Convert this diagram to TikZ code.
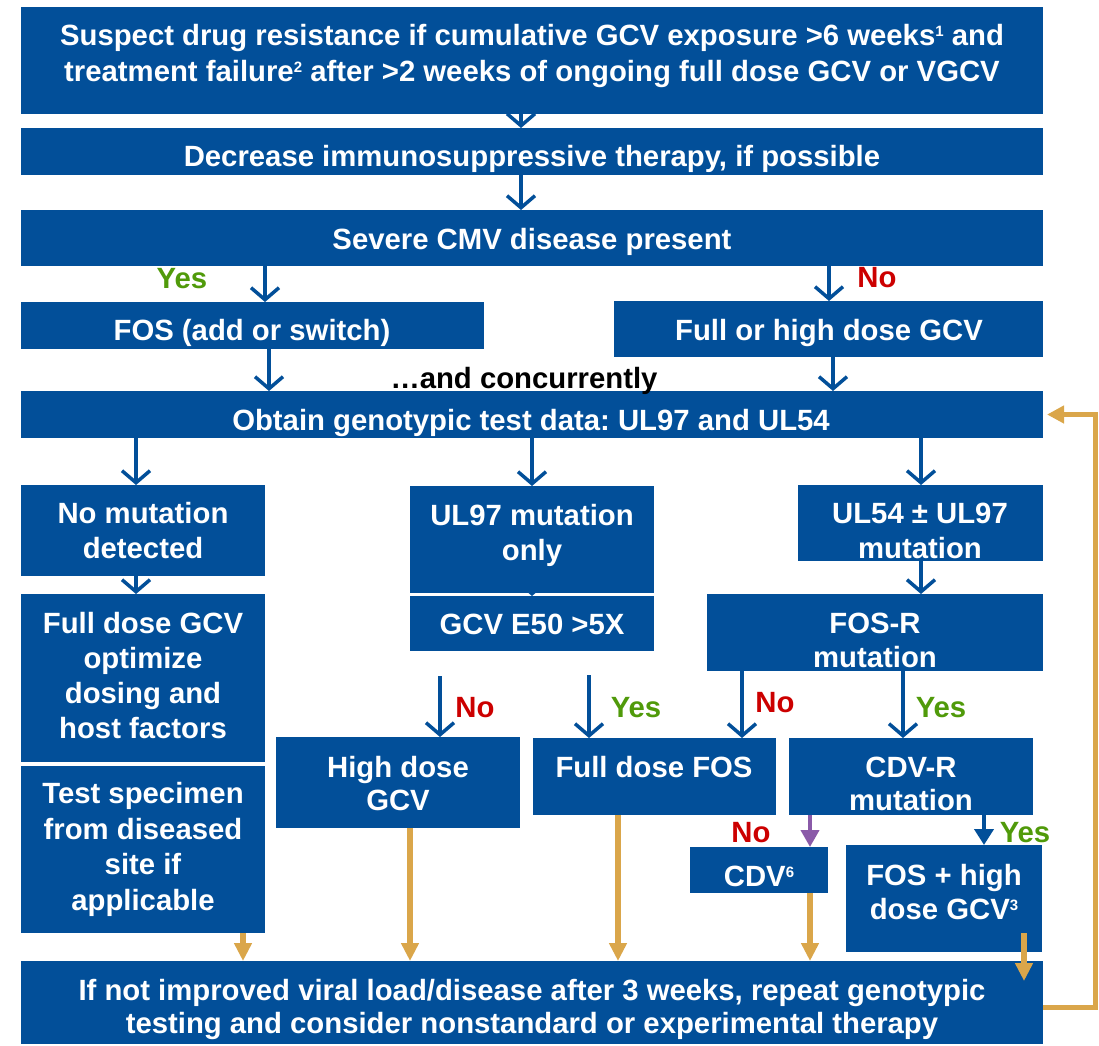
\documentclass[tikz,border=0pt]{standalone}
\usepackage{fontspec}
\setmainfont{Liberation Sans}
\usetikzlibrary{arrows.meta}
\definecolor{cmvblue}{RGB}{2,79,153}
\definecolor{cmvgold}{RGB}{218,166,74}
\definecolor{cmvgreen}{RGB}{80,154,10}
\definecolor{cmvred}{RGB}{204,0,0}
\definecolor{cmvpurple}{RGB}{138,90,168}
\newcommand\mysup[1]{\raisebox{8.5pt}{\fontsize{15}{15}\selectfont #1}}
\frenchspacing
\begin{document}
\frenchspacing
\begin{tikzpicture}[x=1pt,y=-1pt,
  box/.style={fill=cmvblue, draw=none, inner sep=0pt, outer sep=0pt, anchor=north west},
  txt/.style={text=white, font=\bfseries\fontsize{29.3}{35}\selectfont, align=center, inner sep=0pt, anchor=base},
  lbl/.style={font=\bfseries\fontsize{29.3}{35}\selectfont, inner sep=0pt, anchor=base},
  yes/.style={lbl, text=cmvgreen},
  no/.style={lbl, text=cmvred},
  barb/.style={draw=cmvblue, line width=3.5pt, -{Straight Barb[length=12pt,width=28pt]}},
  goldarrow/.style={draw=cmvgold, line width=5.5pt, -{Triangle[length=18pt,width=17pt]}},
  looparrow/.style={draw=cmvgold, line width=5pt, -{Triangle[length=17pt,width=17pt]}},
  purplearrow/.style={draw=cmvpurple, line width=4pt, -{Triangle[length=17pt,width=18pt]}},
  bluearrow/.style={draw=cmvblue, line width=4.5pt, -{Triangle[length=16pt,width=19pt]}}
]
\useasboundingbox (0,0) rectangle (1099,1045);
% column coordinates
\coordinate (x521) at (521,0);
\coordinate (x265) at (265,0);
\coordinate (x829) at (829,0);
\coordinate (x269) at (269,0);
\coordinate (x833) at (833,0);
\coordinate (x136) at (136,0);
\coordinate (x532) at (532,0);
\coordinate (x921) at (921,0);
\coordinate (x742) at (742,0);
\coordinate (x903) at (903,0);
\coordinate (x810) at (810,0);
\coordinate (x984) at (984,0);
\coordinate (x243) at (243,0);
\coordinate (x410) at (410,0);
\coordinate (x618) at (618,0);

% hidden arrow between UL97 and E50 boxes (drawn first)
\coordinate (hidA) at (532,570);
\coordinate (hidB) at (532,596);
\draw[barb] (hidA) -- (hidB);

% boxes
\node[box, minimum width=1022pt, minimum height=107pt] (b1) at (21,7) {};
\node[box, minimum width=1022pt, minimum height=47pt] (b2) at (21,128) {};
\node[box, minimum width=1022pt, minimum height=56pt] (b3) at (21,210) {};
\node[box, minimum width=463pt, minimum height=47pt] (fos) at (21,302) {};
\node[box, minimum width=429pt, minimum height=56pt] (full) at (614,301) {};
\node[box, minimum width=1022pt, minimum height=47pt] (obt) at (21,391) {};
\node[box, minimum width=244pt, minimum height=91pt] (nomut) at (21,485) {};
\node[box, minimum width=244pt, minimum height=107pt] (ul97) at (410,486) {};
\node[box, minimum width=245pt, minimum height=76pt] (ul54) at (798,485) {};
\node[box, minimum width=244pt, minimum height=55pt] (e50) at (410,596) {};
\node[box, minimum width=244pt, minimum height=168pt] (fdg) at (21,594) {};
\node[box, minimum width=336pt, minimum height=77pt] (fosr) at (707,594) {};
\node[box, minimum width=244pt, minimum height=167pt] (test) at (21,766) {};
\node[box, minimum width=244pt, minimum height=91pt] (high) at (276,737) {};
\node[box, minimum width=243pt, minimum height=77pt] (ffos) at (533,738) {};
\node[box, minimum width=244pt, minimum height=77pt] (cdvr) at (789,738) {};
\node[box, minimum width=138pt, minimum height=46pt] (cdv) at (690,847) {};
\node[box, minimum width=196pt, minimum height=107pt] (foshigh) at (846,845) {};
\node[box, minimum width=1022pt, minimum height=83pt] (bot) at (21,961) {};

% texts (anchor=base is the baseline of the last line)
\node[txt, font=\bfseries\fontsize{29.3}{36}\selectfont] (tb1) at (532,81) {Suspect drug resistance if cumulative GCV exposure >6 weeks\mysup{1} and\\treatment failure\mysup{2} after >2 weeks of ongoing full dose GCV or VGCV};
\node[txt] (tb2) at (532,166) {Decrease immunosuppressive therapy, if possible};
\node[txt] (tb3) at (532,249) {Severe CMV disease present};
\node[txt] (tfos) at (252,340) {FOS (add or switch)};
\node[txt] (tfull) at (829,340) {Full or high dose GCV};
\node[lbl, text=black] (tconc) at (524,388) {…and concurrently};
\node[txt] (tobt) at (531,430) {Obtain genotypic test data: UL97 and UL54};
\node[txt] (tnomut) at (143,558) {No mutation\\detected};
\node[txt] (tul97) at (532,560) {UL97 mutation\\only};
\node[txt] (tul54) at (920,558) {UL54 ± UL97\\mutation};
\node[txt] (te50) at (532,634) {GCV E50 >5X};
\node[txt] (tfdg) at (143,738) {Full dose GCV\\optimize\\dosing and\\host factors};
\node[txt, font=\bfseries\fontsize{29.3}{34}\selectfont] (tfosr) at (875,667) {FOS-R\\mutation};
\node[txt, font=\bfseries\fontsize{29.3}{35.5}\selectfont] (ttest) at (143,910) {Test specimen\\from diseased\\site if\\applicable};
\node[txt, font=\bfseries\fontsize{29.3}{33}\selectfont] (thigh) at (398,810) {High dose\\GCV};
\node[txt] (tffos) at (654,777) {Full dose FOS};
\node[txt, font=\bfseries\fontsize{29.3}{33}\selectfont] (tcdvr) at (911,810) {CDV-R\\mutation};
\node[txt] (tcdv) at (759,886) {CDV\mysup{6}};
\node[txt, font=\bfseries\fontsize{29.3}{34}\selectfont] (tfoshigh) at (944,919) {FOS + high\\dose GCV\mysup{3}};
\node[txt, font=\bfseries\fontsize{29.3}{33}\selectfont] (tbot) at (532,1033) {If not improved viral load/disease after 3 weeks, repeat genotypic\\testing and consider nonstandard or experimental therapy};

% labels
\node[yes] (l1) at (182,288) {Yes};
\node[no] (l2) at (877,287) {No};
\node[no] (l3) at (475,717) {No};
\node[yes] (l4) at (636,717) {Yes};
\node[no] (l5) at (775,712) {No};
\node[yes] (l6) at (941,717) {Yes};
\node[no] (l7) at (751,842) {No};
\node[yes] (l8) at (1025,842) {Yes};

% blue open arrows
\draw[barb] (x521 |- b1.south) -- (x521 |- b2.north);
\draw[barb] (x521 |- b2.south) -- (x521 |- b3.north);
\draw[barb] (x265 |- b3.south) -- (x265 |- fos.north);
\draw[barb] (x829 |- b3.south) -- (x829 |- full.north);
\draw[barb] (x269 |- fos.south) -- (x269 |- obt.north);
\draw[barb] (x833 |- full.south) -- (x833 |- obt.north);
\draw[barb] (x136 |- obt.south) -- (x136 |- nomut.north);
\draw[barb] (x532 |- obt.south) -- (x532 |- ul97.north);
\draw[barb] (x921 |- obt.south) -- (x921 |- ul54.north);
\draw[barb] (x136 |- nomut.south) -- (x136 |- fdg.north);
\draw[barb] (x921 |- ul54.south) -- (x921 |- fosr.north);
\coordinate (noS) at (440,676);
\draw[barb] (noS) -- (noS |- high.north);
\coordinate (yesS) at (589,675);
\draw[barb] (yesS) -- (yesS |- ffos.north);
\draw[barb] (x742 |- fosr.south) -- (x742 |- ffos.north);
\draw[barb] (x903 |- fosr.south) -- (x903 |- cdvr.north);

% filled arrows
\draw[purplearrow] (x810 |- cdvr.south) -- (x810 |- cdv.north);
\draw[bluearrow] (x984 |- cdvr.south) -- (x984 |- foshigh.north);

% gold arrows
\draw[goldarrow] (x243 |- test.south) -- (x243 |- bot.north);
\draw[goldarrow] (x410 |- high.south) -- (x410 |- bot.north);
\draw[goldarrow] (x618 |- ffos.south) -- (x618 |- bot.north);
\draw[goldarrow] (x810 |- cdv.south) -- (x810 |- bot.north);
\coordinate (gA) at (1024,933);
\coordinate (gB) at (1024,981);
\draw[goldarrow] (gA) -- (gB);
\coordinate (lp) at (1095,1007);
\draw[looparrow] (bot.east |- lp) -- (lp) |- ([xshift=4pt]obt.east);
\end{tikzpicture}
\end{document}
